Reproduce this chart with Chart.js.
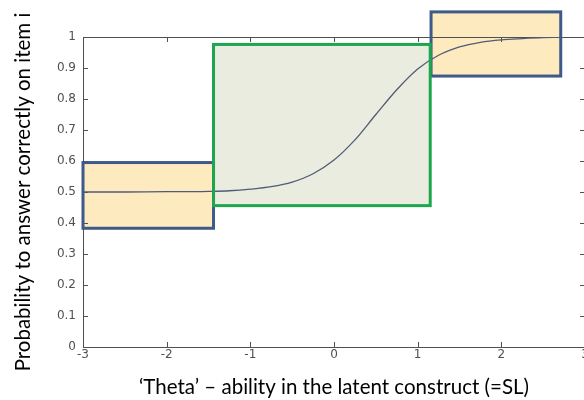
<!DOCTYPE html>
<html>
<head>
<meta charset="utf-8">
<script src="https://cdn.jsdelivr.net/npm/chart.js@4.4.1/dist/chart.umd.min.js"></script>
<style>
  html, body { margin: 0; padding: 0; background: #ffffff; overflow: hidden; }
  #wrap { width: 584px; height: 400px; overflow: hidden; position: relative; }
  canvas { display: block; }
</style>
</head>
<body>
<div id="wrap"><canvas id="icc" width="620" height="400"></canvas></div>
<script>
// Item characteristic curve: ability (theta) vs probability of a correct answer
const theta = [-3, -2.5, -2, -1.75, -1.5, -1.25, -1, -0.75, -0.5, -0.25, 0, 0.25, 0.5, 0.75, 1, 1.25, 1.5, 1.75, 2, 2.25, 2.5, 2.7];
const probability = [0.500, 0.500, 0.501, 0.501, 0.502, 0.504, 0.509, 0.517, 0.532, 0.559, 0.603, 0.668, 0.750, 0.830, 0.897, 0.941, 0.968, 0.983, 0.991, 0.995, 0.998, 0.999];

// Highlighted regions of the curve: theta range and probability range of each
const regionTheta = [[-3, -1.44], [1.16, 2.71], [-1.44, 1.15]];
const regionProb = [[0.383, 0.595], [0.874, 1.081], [0.456, 0.976]];
const regionKind = ['flat', 'flat', 'steep'];

const xTicks = [-3, -2, -1, 0, 1, 2, 3];
const yTicks = [0, 0.1, 0.2, 0.3, 0.4, 0.5, 0.6, 0.7, 0.8, 0.9, 1];

const regionStyle = {
  flat: { fill: '#fdeabf', stroke: '#3d5a88' },
  steep: { fill: '#e9ecdf', stroke: '#1ea64e' }
};

function regionRect(chart, i) {
  const x = chart.scales.x, y = chart.scales.y;
  const x0 = x.getPixelForValue(regionTheta[i][0]);
  const x1 = x.getPixelForValue(regionTheta[i][1]);
  const y0 = y.getPixelForValue(regionProb[i][1]);
  const y1 = y.getPixelForValue(regionProb[i][0]);
  return [x0, y0, x1 - x0, y1 - y0];
}

const regionsPlugin = {
  id: 'regions',
  beforeDatasetsDraw(chart) {
    const ctx = chart.ctx;
    const a = chart.chartArea;
    const x = chart.scales.x, y = chart.scales.y;
    ctx.save();
    // region fills
    regionTheta.forEach((_, i) => {
      ctx.fillStyle = regionStyle[regionKind[i]].fill;
      ctx.fillRect(...regionRect(chart, i));
    });
    // axes box with inward tick marks
    ctx.strokeStyle = '#505050';
    ctx.lineWidth = 1;
    ctx.strokeRect(a.left + 0.5, a.top + 0.5, a.right - a.left - 1, a.bottom - a.top);
    ctx.beginPath();
    const tl = 5;
    xTicks.forEach(v => {
      const px = Math.round(x.getPixelForValue(v)) + 0.5;
      ctx.moveTo(px, a.bottom); ctx.lineTo(px, a.bottom - tl);
      ctx.moveTo(px, a.top); ctx.lineTo(px, a.top + tl);
    });
    yTicks.forEach(v => {
      const py = Math.round(y.getPixelForValue(v)) + 0.5;
      ctx.moveTo(a.left, py); ctx.lineTo(a.left + tl, py);
      ctx.moveTo(a.right, py); ctx.lineTo(a.right - tl, py);
    });
    ctx.stroke();
    ctx.restore();
  },
  afterDatasetsDraw(chart) {
    const ctx = chart.ctx;
    ctx.save();
    ctx.lineWidth = 3;
    ctx.lineJoin = 'miter';
    regionTheta.forEach((_, i) => {
      ctx.strokeStyle = regionStyle[regionKind[i]].stroke;
      ctx.strokeRect(...regionRect(chart, i));
    });
    ctx.restore();
  }
};

const tickFont = { family: "'DejaVu Sans', 'Liberation Sans', sans-serif", size: 12 };
const titleFont = { family: "Lato, 'Open Sans', sans-serif", size: 20.5 };

new Chart(document.getElementById('icc'), {
  type: 'line',
  data: {
    datasets: [{
      data: theta.map((t, i) => ({ x: t, y: probability[i] })),
      borderColor: '#515b78',
      borderWidth: 1.3,
      pointRadius: 0,
      cubicInterpolationMode: 'monotone',
      fill: false
    }]
  },
  options: {
    responsive: false,
    animation: false,
    devicePixelRatio: 1,
    layout: { padding: { top: 37, right: 35, left: 0, bottom: 0 } },
    plugins: { legend: { display: false }, tooltip: { enabled: false } },
    scales: {
      x: {
        type: 'linear',
        min: -3, max: 3,
        afterFit(s) { s.height = 53; },
        afterBuildTicks(s) { s.ticks = xTicks.map(v => ({ value: v })); },
        grid: { display: false, drawTicks: false },
        border: { display: false },
        ticks: { font: tickFont, color: '#505050', padding: 1, maxRotation: 0, autoSkip: false,
                  callback: v => String(v) },
        title: { display: true, text: '\u2018Theta\u2019 \u2013 ability in the latent construct (=SL)',
                 font: titleFont, color: '#000000', padding: { top: 0, bottom: 0 } }
      },
      y: {
        type: 'linear',
        min: 0, max: 1,
        afterFit(s) { s.width = 83; },
        afterBuildTicks(s) { s.ticks = yTicks.map(v => ({ value: v })); },
        grid: { display: false, drawTicks: false },
        border: { display: false },
        ticks: { font: tickFont, color: '#505050', padding: 7, autoSkip: false,
                 callback: v => String(+v.toFixed(1)) },
        title: { display: true, text: 'Probability to answer correctly on item i',
                 font: titleFont, color: '#000000', padding: { top: 11, bottom: 0 } }
      }
    }
  },
  plugins: [regionsPlugin]
});
</script>
</body>
</html>
